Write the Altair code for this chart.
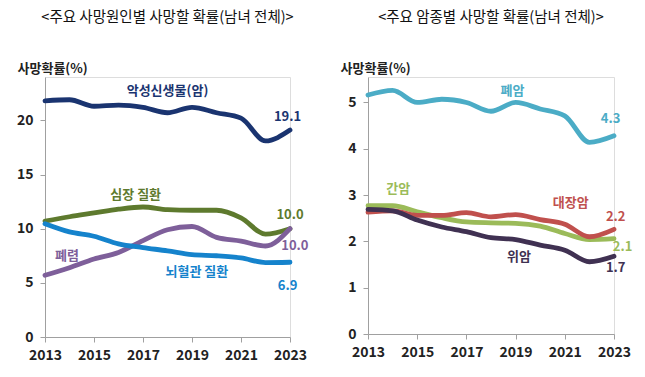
import altair as alt
import pandas as pd

years = list(range(2013, 2024))

# Left chart: major causes of death
cause_names = ["악성신생물(암)", "심장 질환", "폐렴", "뇌혈관 질환"]
cancer_all = [21.8, 21.9, 21.3, 21.4, 21.2, 20.7, 21.2, 20.7, 20.2, 18.1, 19.1]
heart = [10.7, 11.1, 11.45, 11.8, 12.0, 11.75, 11.7, 11.7, 11.0, 9.5, 10.0]
pneumonia = [5.7, 6.4, 7.2, 7.8, 8.9, 9.9, 10.2, 9.2, 8.85, 8.4, 10.0]
cerebro = [10.45, 9.7, 9.3, 8.6, 8.25, 7.95, 7.6, 7.5, 7.3, 6.87, 6.9]
cause_colors = ["#1A3470", "#5E7A2E", "#7E5F9A", "#1583CC"]

# Right chart: cancer types
cancer_names = ["폐암", "간암", "대장암", "위암"]
lung = [5.16, 5.26, 5.0, 5.07, 5.0, 4.81, 5.0, 4.86, 4.71, 4.14, 4.28]
liver = [2.77, 2.77, 2.64, 2.51, 2.42, 2.40, 2.39, 2.33, 2.17, 2.04, 2.06]
colorectal = [2.63, 2.66, 2.56, 2.56, 2.62, 2.53, 2.58, 2.47, 2.37, 2.10, 2.26]
stomach = [2.69, 2.66, 2.46, 2.31, 2.21, 2.08, 2.04, 1.92, 1.81, 1.56, 1.68]
cancer_colors = ["#4BACC6", "#9BBB59", "#C0504D", "#403152"]

# Labels (text, year-position, value-position, color)
left_labels = [
    ("악성신생물(암)", 2018.0, 22.75, "#1A3470"),
    ("19.1", 2022.9, 20.3, "#1A3470"),
    ("심장 질환", 2016.7, 13.1, "#5E7A2E"),
    ("10.0", 2023.0, 11.3, "#5E7A2E"),
    ("폐렴", 2013.9, 7.45, "#7E5F9A"),
    ("10.0", 2023.2, 8.4, "#7E5F9A"),
    ("뇌혈관 질환", 2019.2, 6.0, "#1583CC"),
    ("6.9", 2022.9, 4.7, "#1583CC"),
]
right_labels = [
    ("폐암", 2018.87, 5.25, "#4BACC6"),
    ("4.3", 2022.86, 4.64, "#4BACC6"),
    ("간암", 2014.23, 3.14, "#9BBB59"),
    ("대장암", 2021.24, 2.82, "#C0504D"),
    ("2.2", 2023.07, 2.53, "#C0504D"),
    ("2.1", 2023.35, 1.88, "#9BBB59"),
    ("위암", 2019.14, 1.67, "#403152"),
    ("1.7", 2023.07, 1.42, "#403152"),
]

FONT = "Noto Sans CJK KR"


def long_df(names, series):
    rows = []
    for n, s in zip(names, series):
        for y, v in zip(years, s):
            rows.append({"series": n, "year": y, "value": v})
    return pd.DataFrame(rows)


def panel(title, names, series, colors, labels, ymax, yticks, w, h):
    df = long_df(names, series)
    xenc = alt.X(
        "year:Q",
        scale=alt.Scale(domain=[2013, 2023], nice=False),
        axis=alt.Axis(
            values=[2013, 2015, 2017, 2019, 2021, 2023],
            format="d",
            title=None,
            grid=False,
            labelFontSize=14,
            labelFontWeight="bold",
            labelColor="#222222",
            labelFont=FONT,
            labelPadding=6,
            tickSize=5,
            tickColor="#A0A0A0",
            domainColor="#A0A0A0",
            labelFlush=False,
        ),
    )
    yenc = alt.Y(
        "value:Q",
        scale=alt.Scale(domain=[0, ymax], nice=False),
        axis=alt.Axis(
            values=yticks,
            title="사망확률(%)",
            titleAngle=0,
            titleAlign="left",
            titleBaseline="bottom",
            titleX=-28,
            titleY=-2,
            titleFontSize=13,
            titleFontWeight="bold",
            titleColor="#222222",
            titleFont=FONT,
            grid=False,
            labelFontSize=14,
            labelFontWeight="bold",
            labelColor="#222222",
            labelFont=FONT,
            labelPadding=7,
            tickSize=5,
            tickColor="#A0A0A0",
            domainColor="#A0A0A0",
        ),
    )
    lines = alt.Chart(df).mark_line(
        strokeWidth=4.8, interpolate="monotone", strokeCap="round"
    ).encode(
        x=xenc,
        y=yenc,
        color=alt.Color(
            "series:N",
            scale=alt.Scale(domain=names, range=colors),
            legend=None,
        ),
        order=alt.Order("year:Q"),
    )
    ldf = pd.DataFrame(
        [{"text": t, "year": x, "value": v, "c": c} for t, x, v, c in labels]
    )
    texts = alt.Chart(ldf).mark_text(
        fontSize=13, fontWeight="bold", font=FONT, baseline="middle", align="center"
    ).encode(
        x="year:Q",
        y="value:Q",
        text="text:N",
        color=alt.Color("c:N", scale=None),
    )
    return (lines + texts).properties(
        width=w,
        height=h,
        title=alt.TitleParams(
            title,
            fontSize=14.5,
            fontWeight="normal",
            font=FONT,
            color="#111111",
            offset=37,
            anchor="middle",
            frame="group",
        ),
    )


left = panel(
    "<주요 사망원인별 사망할 확률(남녀 전체)>",
    cause_names,
    [cancer_all, heart, pneumonia, cerebro],
    cause_colors,
    left_labels,
    24,
    [0, 5, 10, 15, 20],
    245,
    260,
)
right = panel(
    "<주요 암종별 사망할 확률(남녀 전체)>",
    cancer_names,
    [lung, liver, colorectal, stomach],
    cancer_colors,
    right_labels,
    5.55,
    [0, 1, 2, 3, 4, 5],
    246,
    257,
)

chart = (
    alt.hconcat(left, right, spacing=29)
    .resolve_scale(color="independent", y="independent", x="independent")
    .properties(padding={"left": 15, "top": 9, "right": 5, "bottom": 5})
    .configure_view(stroke=None)
    .configure(background="white")
)

chart.save("out.html", embed_options={"renderer": "svg", "actions": False})
